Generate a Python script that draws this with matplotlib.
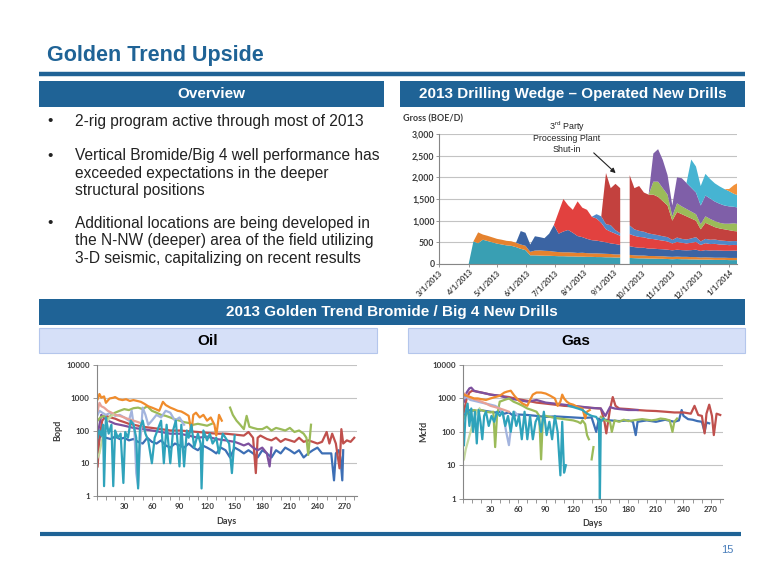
import numpy as np
import pandas as pd
import matplotlib
matplotlib.use("Agg")
import matplotlib.pyplot as plt
from matplotlib.patches import Rectangle
from matplotlib.lines import Line2D
from matplotlib.ticker import FuncFormatter, NullLocator

plt.rcParams["font.family"] = ["Liberation Sans", "DejaVu Sans"]

nan = np.nan

#%% ===============================
# Datos: 2013 Drilling Wedge (Gross BOE/D), un valor cada 5 dias desde 4/1/2013
# ===============================
wedge_start = "2013-04-01"
wedge_teal = [0, 520, 480, 560, 530, 500, 470, 450, 430, 420, 390, 350, 320,
              200, 200, 195, 190, 190, 185, 180, 180, 175, 175, 170, 170, 165, 165, 160, 160, 155, 155, 150, 150,
              nan,
              140, 135, 130, 130, 125, 125, 120, 120, 115, 110, 115, 110, 110, 105, 105, 100, 100, 100,
              95, 95, 95, 90, 90, 90]
wedge_orange = [0, 0, 250, 120, 120, 115, 110, 110, 105, 105, 100, 100, 100,
                80, 110, 120, 115, 110, 100, 95, 90, 95, 90, 85, 90, 85, 80, 85, 80, 80, 75, 70, 70,
                nan,
                70, 65, 65, 65, 60, 60, 60, 60, 55, 55, 55, 55, 55, 55, 55, 50, 55, 50,
                50, 50, 50, 50, 50, 50]
wedge_blue = [0, 0, 0, 0, 0, 0, 0, 0, 0, 0, 0, 310, 300,
              170, 330, 305, 290, 400, 615, 425, 480, 515, 455, 390, 360, 330, 305, 295, 280, 265, 245, 240, 220,
              nan,
              200, 190, 180, 180, 170, 170, 165, 160, 160, 150, 160, 155, 150, 160, 170, 150, 165, 160,
              170, 165, 160, 165, 170, 165]
wedge_red = [0, 0, 0, 0, 0, 0, 0, 0, 0, 0, 0, 0, 0,
             0, 0, 0, 0, 0, 0, 500, 750, 570, 530, 800, 680, 670, 540, 510, 430, 300, 270, 240, 210,
             nan,
             280, 260, 250, 240, 230, 220, 210, 200, 190, 160, 180, 170, 160, 170, 180, 140, 160, 150,
             150, 140, 140, 130, 130, 130]
wedge_ltblue = [0, 0, 0, 0, 0, 0, 0, 0, 0, 0, 0, 0, 0,
                0, 0, 0, 0, 0, 0, 0, 0, 0, 0, 0, 0, 0, 0, 100, 150, 120, 150, 80, 60,
                nan,
                200, 150, 140, 130, 120, 110, 110, 100, 100, 80, 100, 90, 90, 100, 110, 80, 100, 100,
                100, 95, 90, 90, 90, 90]
wedge_darkred = [0, 0, 0, 0, 0, 0, 0, 0, 0, 0, 0, 0, 0,
                 0, 0, 0, 0, 0, 0, 0, 0, 0, 0, 0, 0, 0, 0, 0, 0, 1180, 855, 1070, 1040,
                 nan,
                 1160, 950, 1035, 905, 895, 915, 885, 810, 730, 445, 590, 570, 535, 460, 380, 280, 370, 340,
                 285, 275, 265, 255, 230, 225]
wedge_green = [0, 0, 0, 0, 0, 0, 0, 0, 0, 0, 0, 0, 0,
               0, 0, 0, 0, 0, 0, 0, 0, 0, 0, 0, 0, 0, 0, 0, 0, 0, 0, 0, 0,
               nan,
               0, 0, 0, 0, 0, 300, 350, 300, 250, 100, 200, 180, 170, 160, 150, 120, 150, 140,
               140, 130, 130, 150, 180, 170]
wedge_purple = [0, 0, 0, 0, 0, 0, 0, 0, 0, 0, 0, 0, 0,
                0, 0, 0, 0, 0, 0, 0, 0, 0, 0, 0, 0, 0, 0, 0, 0, 0, 0, 0, 0,
                nan,
                0, 0, 0, 0, 0, 650, 750, 650, 450, 250, 600, 650, 600, 550, 500, 430, 480, 470,
                450, 440, 420, 400, 380, 380]
wedge_cyan = [0, 0, 0, 0, 0, 0, 0, 0, 0, 0, 0, 0, 0,
              0, 0, 0, 0, 0, 0, 0, 0, 0, 0, 0, 0, 0, 0, 0, 0, 0, 0, 0, 0,
              nan,
              0, 0, 0, 0, 0, 0, 0, 0, 0, 0, 0, 0, 0, 650, 600, 450, 500, 450,
              420, 400, 380, 350, 300, 280]
wedge_orange2 = [0, 0, 0, 0, 0, 0, 0, 0, 0, 0, 0, 0, 0,
                 0, 0, 0, 0, 0, 0, 0, 0, 0, 0, 0, 0, 0, 0, 0, 0, 0, 0, 0, 0,
                 nan,
                 0, 0, 0, 0, 0, 0, 0, 0, 0, 0, 0, 0, 0, 0, 0, 0, 0, 0,
                 0, 0, 0, 50, 200, 300]

#%% ===============================
# Datos: Oil (Bopd) por pozo, dias desde el inicio
# ===============================
oil_blue_d = [1, 3, 6, 10, 15, 20, 25, 30, 35, 40, 45, 50, 55, 60, 65, 70, 75, 80, 85, 90,
              95, 100, 105, 110, 115, 120, 125, 130, 135, 140, 145, 150, 155, 160, 165, 170, 175, 180, 185, 190,
              195, 200, 205, 210, 215, 220, 225, 230, 235, 240, 245, 250, 255, 258, 260, 263, 265, 267, 268]
oil_blue_v = [20, 60, 70, 60, 55, 65, 55, 60, 50, 55, 45, 40, 60, 45, 40, 50, 35, 30, 40, 35,
              30, 40, 30, 25, 35, 30, 25, 20, 30, 25, 15, 30, 25, 20, 25, 20, 15, 25, 20, 15,
              25, 20, 30, 25, 20, 25, 15, 20, 25, 30, 20, 20, 20, 3, 20, 25, 15, 3, 25]
oil_red_d = [1, 3, 6, 10, 15, 20, 25, 30, 35, 40, 45, 50, 60, 70, 80, 90, 100, 110, 120, 130,
             140, 150, 160, 165, 170, 173, 175, 178, 185, 190, 195, 200, 205, 210, 215, 220, 225, 230, 235, 240,
             245, 250, 253, 256, 260, 264, 266, 268, 272, 276, 280]
oil_red_v = [8, 60, 200, 280, 250, 230, 200, 180, 160, 150, 140, 130, 120, 110, 100, 100, 95, 90, 85, 80,
             80, 75, 70, 90, 60, 5, 60, 70, 55, 50, 60, 45, 55, 50, 45, 60, 45, 50, 45, 40,
             45, 90, 40, 80, 40, 7, 110, 40, 50, 45, 60]
oil_purple_d = [1, 3, 5, 8, 12, 16, 20, 25, 30, 40, 50, 60, 70, 80, 90, 100, 110, 120, 130, 140,
                150, 155, 160, 165, 170, 175, 180, 185, 188, 190]
oil_purple_v = [80, 150, 300, 250, 200, 180, 160, 150, 140, 120, 110, 100, 90, 80, 80, 70, 60, 65, 55, 50,
                45, 40, 35, 40, 30, 25, 30, 20, 8, 30]
oil_green_d = [1, 4, 8, 12, 16, 20, 25, 30, 35, 40, 45, 50, 55, 60, 65, 70, 75, 80, 85, 90,
               95, 100, 105, 110, 115, 120, 125]
oil_green_v = [200, 250, 280, 220, 300, 350, 400, 450, 420, 480, 500, 450, 550, 400, 350, 300, 280, 250, 220, 200,
               180, 170, 150, 160, 150, 140, 160]
oil_green2_d = [145, 148, 152, 156, 160, 163, 166, 170, 175, 180, 185, 190, 195, 200, 205, 210, 215, 220, 225, 228,
                230, 233]
oil_green2_v = [500, 300, 200, 150, 110, 280, 130, 120, 110, 110, 130, 100, 120, 110, 100, 120, 90, 100, 80, 60,
                18, 150]
oil_peri_d = [1, 3, 6, 10, 15, 20, 25, 30, 35, 38, 41, 43, 45, 47, 50, 53, 56, 60, 65, 70, 75, 80, 85, 90, 95]
oil_peri_v = [300, 400, 350, 300, 350, 280, 300, 250, 200, 400, 100, 5, 2, 30, 500, 300, 150, 200, 300, 250,
              400, 350, 200, 250, 150]
oil_salmon_d = [1, 3, 5, 8, 12, 16, 20, 25, 30, 35, 40, 45, 50]
oil_salmon_v = [400, 700, 550, 500, 400, 350, 300, 280, 250, 220, 200, 180, 160]
oil_ltgreen_d = [1, 3, 5, 8, 11, 14, 18]
oil_ltgreen_v = [15, 20, 40, 100, 180, 250, 300]
oil_orange_d = [1, 3, 5, 8, 10, 14, 18, 20, 24, 28, 32, 36, 40, 44, 48, 52, 56, 60, 64, 68,
                72, 75, 80, 84, 88, 92, 96, 100, 103, 105, 108, 112, 116, 120, 124, 128, 130, 133, 136]
oil_orange_v = [900, 1300, 1000, 1100, 700, 950, 1000, 1050, 900, 850, 900, 800, 850, 800, 750, 650, 550, 500, 450, 400,
                750, 600, 500, 450, 400, 380, 330, 280, 90, 300, 350, 250, 300, 200, 250, 150, 70, 300, 200]
oil_teal_d = [1, 3, 5, 7, 8, 10, 13, 16, 18, 20, 23, 26, 29, 31, 34, 37, 40, 43, 45, 47,
              50, 53, 56, 60, 63, 66, 70, 73, 76, 80, 83, 86, 90, 92, 95, 98, 100, 103, 106, 110,
              113, 114, 116, 120, 123, 126, 130, 133, 137, 140, 144, 147, 150]
oil_teal_v = [60, 100, 70, 150, 2, 250, 80, 150, 2, 100, 60, 80, 2.5, 90, 60, 200, 150, 60, 1.7, 120,
              200, 80, 50, 10, 60, 100, 200, 10, 150, 10, 100, 200, 8, 150, 8, 100, 60, 150, 30, 80,
              40, 1.7, 100, 50, 80, 40, 60, 20, 80, 60, 40, 5, 70]

#%% ===============================
# Datos: Gas (Mcfd) por pozo
# ===============================
gas_red_d = [1, 4, 7, 10, 15, 20, 25, 30, 40, 50, 60, 70, 80, 90, 100, 110, 120, 130, 140, 150,
             154, 156, 160, 163, 166, 170, 180, 190, 200, 210, 220, 230, 240, 248, 252, 256, 260, 263, 265, 268,
             271, 273, 276, 280]
gas_red_v = [400, 1000, 1500, 1700, 1600, 1500, 1400, 1300, 1200, 1100, 950, 850, 750, 700, 650, 600, 580, 550, 520, 500,
             200, 90, 480, 1100, 600, 500, 480, 450, 430, 420, 400, 380, 380, 350, 600, 320, 300, 90, 350, 650,
             300, 80, 350, 320]
gas_blue_d = [1, 4, 8, 12, 16, 20, 25, 30, 35, 40, 45, 50, 55, 60, 70, 80, 90, 100, 110, 120,
              130, 140, 145, 148, 150, 155, 160, 170, 180, 185, 188, 190, 195, 200, 210, 220, 230, 235, 238, 240,
              245, 250, 255, 260, 263, 265, 268]
gas_blue_v = [300, 400, 450, 430, 420, 440, 420, 400, 380, 400, 350, 380, 300, 330, 320, 300, 280, 290, 280, 270,
              260, 270, 100, 250, 220, 230, 220, 210, 220, 200, 80, 200, 210, 220, 200, 230, 200, 220, 450, 300,
              240, 230, 210, 200, 100, 190, 180]
gas_purple_d = [1, 4, 7, 9, 12, 15, 20, 25, 30, 40, 50, 60, 70, 80, 90, 100, 110, 120, 130, 140,
                150, 155, 160, 165, 170, 180, 190]
gas_purple_v = [800, 1500, 2000, 2100, 1700, 1600, 1500, 1400, 1300, 1200, 1000, 900, 800, 900, 750, 700, 650, 600, 560, 520,
                500, 300, 550, 500, 480, 450, 450]
gas_green_d = [1, 4, 8, 12, 16, 20, 25, 30, 33, 35, 37, 40, 45, 50, 55, 60, 65, 70, 75, 80,
               83, 85, 87, 90, 95, 100, 105, 110, 115, 120, 125, 128, 130, 133, 135, 137]
gas_green_v = [250, 350, 400, 450, 420, 450, 400, 380, 400, 35, 300, 800, 900, 1000, 800, 700, 600, 500, 450, 400,
               300, 15, 300, 300, 280, 260, 250, 240, 230, 220, 200, 180, 220, 170, 80, 60]
gas_green2_d = [140, 142]
gas_green2_v = [15, 35]
gas_green3_d = [150, 155, 160, 162, 165, 170, 175, 180, 185, 190, 195, 200, 205, 210, 215, 220, 225, 228, 230, 233]
gas_green3_v = [280, 220, 200, 100, 220, 200, 230, 210, 220, 230, 240, 230, 220, 230, 250, 240, 220, 100, 200, 250]
gas_peri_d = [1, 4, 8, 12, 16, 20, 25, 30, 35, 40, 44, 47, 50, 53, 56, 60]
gas_peri_v = [1000, 1100, 900, 850, 800, 750, 700, 650, 600, 500, 300, 100, 40, 200, 400, 300]
gas_salmon_d = [1, 3, 6, 10, 15, 20, 25, 30, 35, 40, 45, 50]
gas_salmon_v = [1400, 1300, 1100, 1000, 900, 800, 700, 600, 550, 500, 450, 400]
gas_ltgreen_d = [1, 3, 6, 9, 12, 15, 18]
gas_ltgreen_v = [15, 30, 60, 120, 250, 400, 500]
gas_orange_d = [1, 4, 8, 12, 16, 20, 25, 30, 35, 40, 45, 48, 52, 56, 60, 65, 70, 73, 76, 80,
                85, 90, 95, 100, 103, 106, 108, 110, 113, 116, 120, 125, 130, 133, 135, 138]
gas_orange_v = [1300, 1200, 1100, 1000, 1000, 950, 900, 1000, 1100, 1200, 1500, 1600, 1700, 1200, 900, 700, 600, 900, 1300, 1500,
                1500, 1400, 1200, 1000, 600, 800, 1300, 1000, 800, 700, 650, 550, 500, 250, 400, 450]
gas_teal_d = [1, 3, 5, 7, 9, 11, 13, 15, 17, 19, 21, 23, 25, 28, 31, 34, 37, 40, 43, 46,
              49, 52, 55, 58, 61, 64, 67, 70, 73, 76, 79, 82, 85, 88, 91, 94, 97, 100, 103, 106,
              108, 110, 112]
gas_teal_v = [40, 400, 700, 150, 500, 100, 400, 45, 450, 200, 60, 300, 400, 150, 300, 200, 400, 300, 400, 150,
              300, 100, 400, 150, 300, 60, 400, 60, 300, 60, 200, 300, 100, 400, 80, 200, 60, 300, 100, 5,
              200, 6, 10]
gas_teal2_d = [115, 120, 125, 130, 135, 140, 145, 148, 149, 150, 153]
gas_teal2_v = [600, 550, 500, 450, 350, 300, 280, 200, 1, 200, 250]

bullets = [
    ["2-rig program active through most of 2013"],
    ["Vertical Bromide/Big 4 well performance has",
     "exceeded expectations in the deeper",
     "structural positions"],
    ["Additional locations are being developed in",
     "the N-NW (deeper) area of the field utilizing",
     "3-D seismic, capitalizing on recent results"],
]

#%% ===============================
# Figura (coordenadas en pixeles, origen arriba-izquierda)
# ===============================
W, H = 780, 585
BLUE = "#1f6396"
GRID = "#c3c3c3"
AXC = "#868686"
TICKC = "#3a3a3a"
CHART_FONT = ["Lato", "DejaVu Sans"]

fig = plt.figure(figsize=(7.8, 5.85), dpi=100)


def fx(x):
    return x / W


def fy(y):
    return 1 - y / H


def box(x0, y0, x1, y1, **kw):
    fig.add_artist(Rectangle((fx(x0), fy(y1)), (x1 - x0) / W, (y1 - y0) / H,
                             transform=fig.transFigure, **kw))


def hline(x0, x1, y, lw, color):
    fig.add_artist(Line2D([fx(x0), fx(x1)], [fy(y), fy(y)], transform=fig.transFigure,
                          lw=lw, color=color, solid_capstyle="butt"))


def text(x, y, s, **kw):
    fig.text(fx(x), fy(y), s, **kw)


def ax_at(x0, y0, x1, y1):
    a = fig.add_axes([fx(x0), fy(y1), (x1 - x0) / W, (y1 - y0) / H])
    a.patch.set_alpha(0)
    return a


def style_axes(a):
    for s in ["top", "right"]:
        a.spines[s].set_visible(False)
    for s in ["left", "bottom"]:
        a.spines[s].set_color(AXC)
        a.spines[s].set_linewidth(0.8)
    a.tick_params(which="both", length=3, width=0.6, color=AXC, pad=2)
    a.grid(axis="y", color=GRID, lw=0.8)
    a.set_axisbelow(True)


def style_labels(a, size):
    for lab in a.get_xticklabels() + a.get_yticklabels():
        lab.set_family(CHART_FONT)
        lab.set_fontweight("bold")
        lab.set_fontsize(size)
        lab.set_color(TICKC)


# Titulo
text(47, 61.5, "Golden Trend Upside", fontsize=15.5, fontweight="bold", color=BLUE, va="baseline")
hline(39, 745, 74.3, 3.2, BLUE)

# Cabeceras
box(39, 80.5, 384, 107.3, facecolor=BLUE, edgecolor="none")
box(400, 80.5, 745, 107.3, facecolor=BLUE, edgecolor="none")
text(211.5, 94, "Overview", fontsize=11, fontweight="bold", color="white", ha="center", va="center")
text(572.5, 94, "2013 Drilling Wedge \u2013 Operated New Drills", fontsize=11, fontweight="bold",
     color="white", ha="center", va="center")

# Bullets
line_y = [[121.3], [155.7, 173.5, 191.0], [223.5, 241.0, 258.5]]
for lines, ys in zip(bullets, line_y):
    text(50, ys[0], "\u2022", fontsize=11, color="#222222", ha="center", va="center")
    for s, y in zip(lines, ys):
        text(75, y, s, fontsize=11.2, color="#222222", va="center")

# Seccion inferior
box(39, 299.3, 745, 325.3, facecolor=BLUE, edgecolor="none")
text(392, 312.3, "2013 Golden Trend Bromide / Big 4 New Drills", fontsize=11, fontweight="bold",
     color="white", ha="center", va="center")
box(39, 328.3, 376.5, 353.3, facecolor="#d6e0f8", edgecolor="#b4c6ec", lw=0.8)
box(407.5, 328.3, 745, 353.3, facecolor="#d6e0f8", edgecolor="#b4c6ec", lw=0.8)
text(207.7, 340.8, "Oil", fontsize=11, fontweight="bold", color="black", ha="center", va="center")
text(576.2, 340.8, "Gas", fontsize=11, fontweight="bold", color="black", ha="center", va="center")
hline(40, 741, 534, 3.0, BLUE)
text(727, 550, "15", fontsize=8, color="#4a7ebb", ha="center", va="center")

#%% ===============================
# 2013 Drilling Wedge (area apilada)
# ===============================
ax = ax_at(439.3, 134, 736.7, 264)
wedge_dates = pd.date_range(wedge_start, periods=len(wedge_teal), freq="5D")
layers = [wedge_teal, wedge_orange, wedge_blue, wedge_red, wedge_ltblue, wedge_darkred,
          wedge_green, wedge_purple, wedge_cyan, wedge_orange2]
colors = ["#399fb3", "#e5822e", "#3b64a3", "#e2413f", "#4f88c8", "#c3413e",
          "#9bbb59", "#7f5fa8", "#46b4d2", "#f2923a"]
ax.stackplot(wedge_dates, *[np.array(l, dtype=float) for l in layers], colors=colors, lw=0)
style_axes(ax)
ax.tick_params(which="both", length=2.5, pad=1)
ax.set_ylim(0, 3000)
ax.set_yticks(range(0, 3001, 500))
ax.yaxis.set_major_formatter(FuncFormatter(lambda v, p: f"{v:,.0f}"))
ax.set_xlim(pd.Timestamp("2013-03-01"), pd.Timestamp("2014-01-09"))
month_ticks = pd.date_range("2013-03-01", "2014-01-01", freq="MS")
ax.set_xticks(month_ticks)
ax.set_xticklabels([f"{d.month}/{d.day}/{d.year}" for d in month_ticks],
                   rotation=45, ha="right", rotation_mode="anchor")
style_labels(ax, 6.3)
for lab in ax.get_xticklabels():
    lab.set_fontsize(5.4)
text(403, 118.5, "Gross (BOE/D)", fontsize=6.5, fontweight="bold", color=TICKC,
     family=CHART_FONT, va="center")

text(566.7, 127, "3$^{\\mathregular{rd}}$ Party", fontsize=6.4, color="#222222", ha="center", va="center")
text(566.7, 138, "Processing Plant", fontsize=6.4, color="#222222", ha="center", va="center")
text(566.7, 149, "Shut-in", fontsize=6.4, color="#222222", ha="center", va="center")
ax.annotate("", xy=(617.7, H - 175), xycoords="figure pixels",
            xytext=(591.7, H - 151), textcoords="figure pixels",
            arrowprops=dict(arrowstyle="-|>", color="#222222", lw=0.8, mutation_scale=7))

#%% ===============================
# Oil y Gas (escala log)
# ===============================
oil_wells = [
    (oil_blue_d, oil_blue_v, "#3d6fb5"),
    (oil_red_d, oil_red_v, "#c0504d"),
    (oil_purple_d, oil_purple_v, "#7d519f"),
    (oil_green_d, oil_green_v, "#9bbb59"),
    (oil_green2_d, oil_green2_v, "#9bbb59"),
    (oil_peri_d, oil_peri_v, "#a3b4de"),
    (oil_salmon_d, oil_salmon_v, "#e8a197"),
    (oil_ltgreen_d, oil_ltgreen_v, "#c5d99e"),
    (oil_orange_d, oil_orange_v, "#f08c2c"),
    (oil_teal_d, oil_teal_v, "#2fa3bb"),
]
gas_wells = [
    (gas_blue_d, gas_blue_v, "#3d6fb5"),
    (gas_red_d, gas_red_v, "#c0504d"),
    (gas_purple_d, gas_purple_v, "#7d519f"),
    (gas_green_d, gas_green_v, "#9bbb59"),
    (gas_green2_d, gas_green2_v, "#9bbb59"),
    (gas_green3_d, gas_green3_v, "#9bbb59"),
    (gas_peri_d, gas_peri_v, "#a3b4de"),
    (gas_salmon_d, gas_salmon_v, "#e8a197"),
    (gas_ltgreen_d, gas_ltgreen_v, "#c5d99e"),
    (gas_orange_d, gas_orange_v, "#f08c2c"),
    (gas_teal_d, gas_teal_v, "#2fa3bb"),
    (gas_teal2_d, gas_teal2_v, "#2fa3bb"),
]


def log_panel(box_px, wells, ylabel, ylab_xy, days_xy):
    a = ax_at(*box_px)
    for d, v, c in wells:
        a.plot(d, v, color=c, lw=1.6, solid_joinstyle="round")
    a.set_yscale("log")
    a.set_ylim(1, 10000)
    a.set_xlim(0, 283)
    a.set_yticks([1, 10, 100, 1000, 10000])
    a.set_yticklabels(["1", "10", "100", "1000", "10000"])
    a.yaxis.set_minor_locator(NullLocator())
    a.set_xticks(range(30, 271, 30))
    a.set_xticks(range(0, 281, 10), minor=True)
    style_axes(a)
    style_labels(a, 5.8)
    text(ylab_xy[0], ylab_xy[1], ylabel, fontsize=6.5, fontweight="bold", color=TICKC,
         family=CHART_FONT, rotation=90, ha="center", va="center")
    text(days_xy[0], days_xy[1], "Days", fontsize=6.5, fontweight="bold", color=TICKC,
         family=CHART_FONT, ha="center", va="center")
    return a


log_panel((96.7, 365, 357, 496), oil_wells, "Bopd", (57.5, 430), (226.5, 521.7))
log_panel((463, 365, 723, 498.7), gas_wells, "Mcfd", (424, 431), (592, 523.3))

plt.savefig("out.png", dpi=100)
